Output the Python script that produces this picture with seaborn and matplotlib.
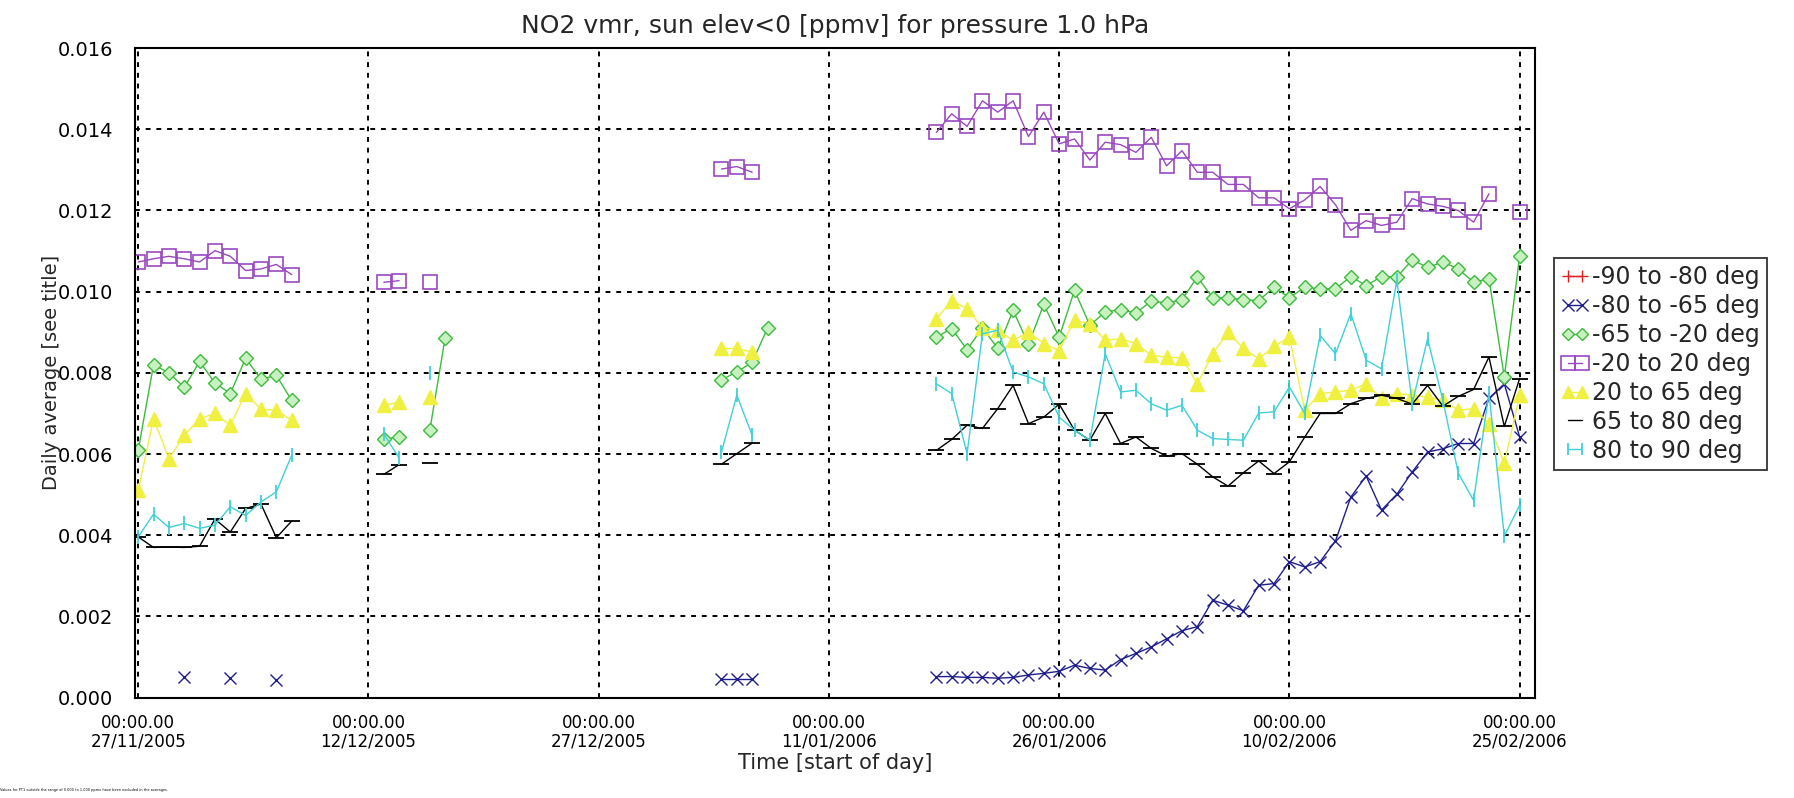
import numpy as np
import pandas as pd
import matplotlib
matplotlib.use("Agg")
import matplotlib.pyplot as plt
from matplotlib.lines import Line2D
from matplotlib.ticker import FuncFormatter, MultipleLocator
import seaborn as sns

nan = np.nan
START = pd.Timestamp("2005-11-27")

# day offsets from 27/11/2005 for which averages exist
day_offsets = list(range(0, 11)) + [16, 17, 19, 20] + [38, 39, 40, 41] + list(range(52, 91))

series_labels = ["-90 to -80 deg", "-80 to -65 deg", "-65 to -20 deg", "-20 to 20 deg",
                 "20 to 65 deg", "65 to 80 deg", "80 to 90 deg"]

lat_m90_m80 = [nan] * len(day_offsets)

lat_m80_m65 = ([nan, nan, nan, 0.00050, nan, nan, 0.00048, nan, nan, 0.00044, nan]
               + [nan, nan, nan, nan]
               + [0.00045, 0.00045, 0.00045, nan]
               + [0.00052, 0.00052, 0.00050, 0.00050, 0.00048, 0.00050, 0.00056, 0.00060,
                  0.00065, 0.00080, 0.00072, 0.00068, 0.00094, 0.00109, 0.00125, 0.00145, 0.00165,
                  0.00175, 0.00240, 0.00228, 0.00214, 0.00277, 0.00281, 0.00335, 0.00322, 0.00335,
                  0.00386, 0.00494, 0.00546, 0.00462, 0.00501, 0.00556, 0.00605, 0.00613, 0.00626,
                  0.00626, 0.00737, 0.00773, 0.00642])

lat_m65_m20 = ([0.00609, 0.00820, 0.00800, 0.00764, 0.00828, 0.00775, 0.00749, 0.00836, 0.00784, 0.00794, 0.00732]
               + [0.00636, 0.00643, 0.00659, 0.00887]
               + [0.00783, 0.00802, 0.00826, 0.00910]
               + [0.00888, 0.00909, 0.00857, 0.00911, 0.00860, 0.00954, 0.00870, 0.00969, 0.00888,
                  0.01003, 0.00917, 0.00950, 0.00956, 0.00947, 0.00977, 0.00972, 0.00980, 0.01036,
                  0.00985, 0.00985, 0.00980, 0.00978, 0.01011, 0.00985, 0.01011, 0.01007, 0.01007,
                  0.01037, 0.01015, 0.01037, 0.01036, 0.01078, 0.01060, 0.01073, 0.01056, 0.01023,
                  0.01032, 0.00790, 0.01087])

lat_m20_20 = ([0.01073, 0.01081, 0.01087, 0.01081, 0.01073, 0.01101, 0.01087, 0.01052, 0.01056, 0.01067, 0.01042]
              + [0.01023, 0.01027, 0.01023, nan]
              + [0.01302, 0.01308, 0.01294, nan]
              + [0.01392, 0.01438, 0.01407, 0.01470, 0.01442, 0.01470, 0.01382, 0.01442, 0.01364,
                 0.01376, 0.01324, 0.01368, 0.01362, 0.01343, 0.01380, 0.01310, 0.01347, 0.01294,
                 0.01294, 0.01264, 0.01264, 0.01231, 0.01231, 0.01204, 0.01226, 0.01259, 0.01214,
                 0.01151, 0.01175, 0.01163, 0.01171, 0.01229, 0.01216, 0.01210, 0.01200, 0.01171,
                 0.01241, nan, 0.01196])

lat_20_65 = ([0.00511, 0.00687, 0.00589, 0.00646, 0.00687, 0.00700, 0.00671, 0.00749, 0.00710, 0.00708, 0.00683]
             + [0.00720, 0.00728, 0.00740, nan]
             + [0.00860, 0.00860, 0.00851, nan]
             + [0.00933, 0.00978, 0.00958, 0.00911, 0.00905, 0.00880, 0.00900, 0.00872, 0.00855,
                0.00929, 0.00921, 0.00880, 0.00884, 0.00872, 0.00843, 0.00839, 0.00837, 0.00773,
                0.00847, 0.00900, 0.00860, 0.00835, 0.00865, 0.00888, 0.00708, 0.00749, 0.00753,
                0.00757, 0.00773, 0.00737, 0.00749, 0.00745, 0.00740, 0.00732, 0.00708, 0.00712,
                0.00675, 0.00577, 0.00745])

lat_65_80 = ([0.00396, 0.00370, 0.00371, 0.00370, 0.00373, 0.00440, 0.00408, 0.00466, 0.00477, 0.00394, 0.00435]
             + [0.00550, 0.00574, 0.00579, nan]
             + [0.00575, 0.00601, 0.00627, nan]
             + [0.00609, 0.00636, 0.00671, 0.00663, 0.00712, 0.00769, 0.00675, 0.00691, 0.00723,
                0.00659, 0.00634, 0.00700, 0.00626, 0.00642, 0.00614, 0.00595, 0.00601, 0.00575,
                0.00544, 0.00521, 0.00554, 0.00583, 0.00552, 0.00581, 0.00642, 0.00700, 0.00700,
                0.00724, 0.00737, 0.00745, 0.00737, 0.00723, 0.00769, 0.00718, 0.00742, 0.00759,
                0.00839, 0.00668, 0.00786])

lat_80_90 = ([0.00396, 0.00452, 0.00419, 0.00429, 0.00417, 0.00425, 0.00470, 0.00449, 0.00482, 0.00507, 0.00597]
             + [0.00650, 0.00590, 0.00800, nan]
             + [0.00605, 0.00745, 0.00646, nan]
             + [0.00773, 0.00749, 0.00601, 0.00896, 0.00905, 0.00802, 0.00790, 0.00773, 0.00691,
                0.00659, 0.00634, 0.00847, 0.00753, 0.00757, 0.00724, 0.00708, 0.00720, 0.00659,
                0.00638, 0.00636, 0.00634, 0.00701, 0.00704, 0.00765, 0.00700, 0.00892, 0.00847,
                0.00946, 0.00831, 0.00810, 0.01028, 0.00724, 0.00884, 0.00732, 0.00553, 0.00486,
                0.00750, 0.00398, 0.00474])

all_series = [lat_m90_m80, lat_m80_m65, lat_m65_m20, lat_m20_20, lat_20_65, lat_65_80, lat_80_90]

styles = [
    dict(color="#e02020", marker="+", markersize=10, mfc="#e02020", mec="#e02020", mew=1.0),
    dict(color="#1e1e8c", marker="x", markersize=9, mfc="none", mec="#1e1e8c", mew=1.0),
    dict(color="#3cbc3c", marker="D", markersize=7, mfc="#c8f0c0", mec="#3cbc3c", mew=1.0),
    dict(color="#9a48c0", marker="s", markersize=10.5, mfc="none", mec="#9a48c0", mew=1.2),
    dict(color="#f0f040", marker="^", markersize=10, mfc="#f0f040", mec="#f0f040", mew=1.0),
    dict(color="#000000", marker="_", markersize=11, mfc="#000000", mec="#000000", mew=1.3),
    dict(color="#40d0d8", marker="|", markersize=10, mfc="#40d0d8", mec="#40d0d8", mew=1.3),
]


def to_segments(days, vals):
    rows, seg, prev = [], 0, None
    for d, v in zip(days, vals):
        if v is None or np.isnan(v):
            prev = None
            continue
        if prev is None or d - prev > 1:
            seg += 1
        rows.append((START + pd.Timedelta(days=d), v, seg))
        prev = d
    return pd.DataFrame(rows, columns=["date", "value", "seg"])


sns.set_theme(style="white")
plt.rcParams["font.family"] = ["DejaVu Sans"]

W, H = 1794, 798
fig = plt.figure(figsize=(W / 100, H / 100), dpi=100)
ax = fig.add_axes([135 / W, (H - 697.7) / H, 1400 / W, (697.7 - 48) / H])

for vals, st in zip(all_series, styles):
    df = to_segments(day_offsets, vals)
    if df.empty:
        continue
    sns.lineplot(data=df, x="date", y="value", units="seg", estimator=None, sort=False,
                 ax=ax, legend=False, color=st["color"], linewidth=1.0,
                 marker=st["marker"], markersize=st["markersize"],
                 markerfacecolor=st["mfc"], markeredgecolor=st["mec"], markeredgewidth=st["mew"])

ax.set_xlim(START - pd.Timedelta(hours=5), START + pd.Timedelta(days=91))
ax.set_ylim(0, 0.016)
ax.yaxis.set_major_locator(MultipleLocator(0.002))
ax.yaxis.set_major_formatter(FuncFormatter(lambda v, p: f"{v:.3f}"))
ticks = [START + pd.Timedelta(days=15 * i) for i in range(7)]
ax.set_xticks(ticks)
ax.set_xticklabels(["00:00.00\n" + t.strftime("%d/%m/%Y") for t in ticks], linespacing=1.0)
ax.tick_params(axis="both", length=0, colors="black")
ax.tick_params(axis="x", pad=12, labelsize=12)
ax.tick_params(axis="y", pad=16, labelsize=14)
ax.grid(True, color="black", linestyle=(0, (2.5, 3)), linewidth=1.4)
for sp in ax.spines.values():
    sp.set_color("black")
    sp.set_linewidth(1.5)

ax.set_title("NO2 vmr, sun elev<0 [ppmv] for pressure 1.0 hPa", fontsize=18, pad=11)
ax.set_xlabel("Time [start of day]", fontsize=15, labelpad=2)
ax.set_ylabel("Daily average [see title]", fontsize=14, labelpad=-3)

handles = []
for lab, st in zip(series_labels, styles):
    mk = None if lab == "65 to 80 deg" else st["marker"]
    handles.append(Line2D([0], [0], color=st["color"], linewidth=1.0, marker=mk,
                          markersize=st["markersize"] * 0.9, markerfacecolor=st["mfc"],
                          markeredgecolor=st["mec"], markeredgewidth=st["mew"]))
leg = ax.legend(handles, series_labels, loc="upper left", bbox_to_anchor=(1.0136, 0.677),
                borderaxespad=0, numpoints=2, handlelength=1.2, handletextpad=0.1,
                labelspacing=0.21, fontsize=17, frameon=True, fancybox=False,
                borderpad=0.3, edgecolor="black", facecolor="white")
leg.get_frame().set_linewidth(1.3)

fig.text(0.0, 0.008, "Values for PT1 outside the range of 0.000 to 1.000 ppmv have been excluded in the averages.",
         fontsize=2.5, color="black", ha="left", va="bottom")

fig.savefig("out.png", dpi=100)
